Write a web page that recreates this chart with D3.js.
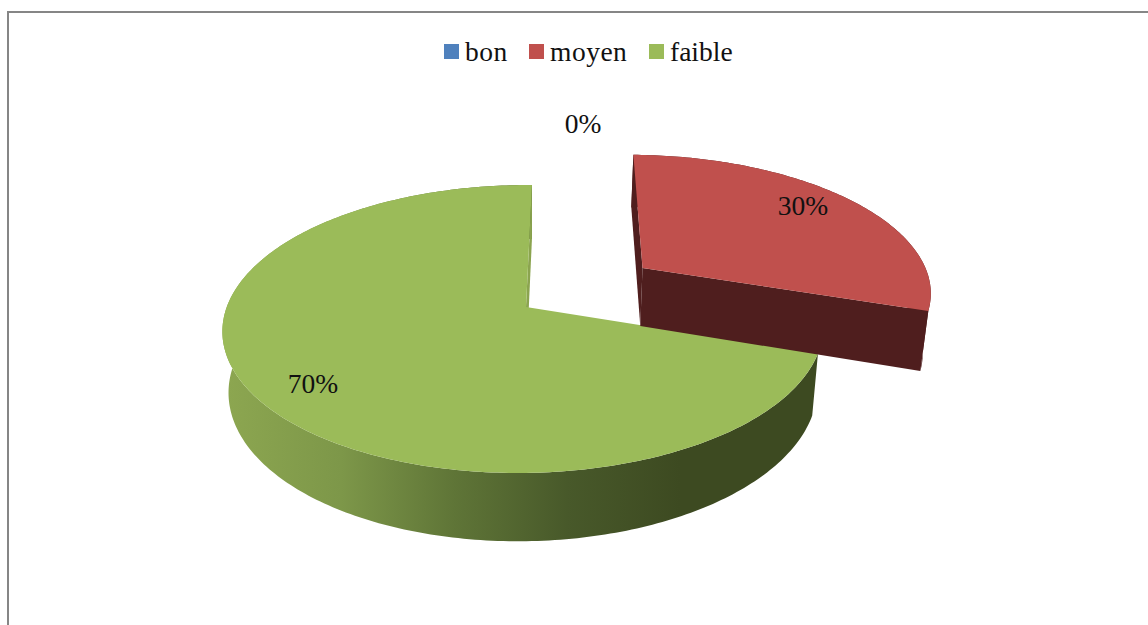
<!DOCTYPE html>
<html>
<head>
<meta charset="utf-8">
<script src="https://cdn.jsdelivr.net/npm/d3@7/dist/d3.min.js"></script>
<style>
html,body{margin:0;padding:0;background:#fff;overflow:hidden}
svg{display:block}
text{font-family:"Liberation Serif",serif;font-size:27.5px;fill:#111}
</style>
</head>
<body>
<svg id="c" width="1148" height="625"></svg>
<script>
const categories = ["bon", "moyen", "faible"];
const values = [0, 30, 70];
const valueLabels = ["0%", "30%", "70%"];
const colors = ["#4f81bd", "#c0504d", "#9bbb59"];
const wallColors = ["#2c4d75", "#4f1e1e", "#8ba44f"];

const svg = d3.select("#c");
const color = d3.scaleOrdinal(categories, colors);
const wallColor = d3.scaleOrdinal(categories, wallColors);

// Layout of the tilted pie (perspective map from the unit disc to the page)
const apex = [526, 307];
const H = {a: 296.8, b: -6.9, d: 1.0, e: 140.6, g: 0.007, h: -0.1528};
function project(u, v) {
  const w = 1 + H.g * u + H.h * v;
  return [apex[0] + (H.a * u + H.b * v) / w, apex[1] + (H.d * u + H.e * v) / w];
}
// Map a top-plane point to the base plane of the pie
function lower(p) {
  return [p[0] + (530 - p[0]) * 0.02, p[1] + 58 + (p[1] - 267) * 0.05];
}
const explode = {moyen: 0.5};
const radiusK = {moyen: 1.01};

const pie = d3.pie().sort(null).value((d, i) => values[i]);
const arcs = pie(categories);
const line = d3.line();

function rimPoints(d) {
  const ex = explode[d.data] || 0, rk = radiusK[d.data] || 1;
  const mid = (d.startAngle + d.endAngle) / 2;
  const ou = ex * Math.sin(mid), ov = -ex * Math.cos(mid);
  const n = Math.max(2, Math.ceil((d.endAngle - d.startAngle) * 60));
  const rim = d3.range(n + 1).map(i => {
    const t = d.startAngle + (d.endAngle - d.startAngle) * i / n;
    return project(ou + rk * Math.sin(t), ov - rk * Math.cos(t));
  });
  return {center: project(ou, ov), rim};
}

const defs = svg.append("defs");
const grad = defs.append("linearGradient").attr("id", "wallGrad")
  .attr("gradientUnits", "userSpaceOnUse").attr("x1", 228).attr("x2", 680).attr("y1", 0).attr("y2", 0);
[[0, "#8ca650"], [0.25, "#7d9749"], [0.5, "#5f7537"], [0.75, "#48592a"], [1, "#3d4a21"]]
  .forEach(s => grad.append("stop").attr("offset", s[0]).attr("stop-color", s[1]));

// frame
svg.append("path").attr("d", line([[8, 625], [8, 12], [1148, 12]]))
  .attr("fill", "none").attr("stroke", "#868686").attr("stroke-width", 2);

// slices: faible first, then moyen
const order = arcs.filter(d => d.value > 0).sort((a, b) => b.value - a.value);
order.forEach(d => {
  const {center, rim} = rimPoints(d);
  const lowRim = rim.map(lower);
  const g = svg.append("g");
  const isBig = d.data === "faible";
  // outer wall
  g.append("path").attr("d", line(rim.concat(lowRim.slice().reverse())) + "Z")
    .attr("fill", isBig ? "url(#wallGrad)" : wallColor(d.data));
  // radial walls
  const startW = [rim[0], lowRim[0], lower(center), center];
  const endW = [rim[rim.length - 1], lowRim[lowRim.length - 1], lower(center), center];
  if (!isBig) {
    g.append("path").attr("d", line(startW) + "Z").attr("fill", wallColor(d.data));
    g.append("path").attr("d", line(endW) + "Z").attr("fill", wallColor(d.data));
  } else {
    g.append("path").attr("d", line(endW) + "Z").attr("fill", wallColor(d.data));
  }
  // top
  g.append("path").attr("d", line([center].concat(rim)) + "Z").attr("fill", color(d.data));
});

// value labels
const labelX = d3.scaleOrdinal(categories, [583, 803, 313]);
const labelY = d3.scaleOrdinal(categories, [133, 215, 393]);
svg.append("g").selectAll("text").data(categories).join("text")
  .attr("x", d => labelX(d)).attr("y", d => labelY(d))
  .attr("text-anchor", "middle")
  .text((d, i) => valueLabels[i]);

// legend
const swatchX = d3.scaleOrdinal(categories, [444, 529, 649]);
const legendSpacing = d3.scaleOrdinal(categories, [0.5, 0.5, 0]);
const legend = svg.append("g").attr("class", "legend").selectAll("g").data(categories).join("g")
  .attr("transform", d => `translate(${swatchX(d)},44)`);
legend.append("rect").attr("width", 15).attr("height", 15).attr("fill", d => color(d));
legend.append("text").attr("x", 21).attr("y", 17)
  .attr("letter-spacing", d => legendSpacing(d)).text(d => d);
</script>
</body>
</html>
